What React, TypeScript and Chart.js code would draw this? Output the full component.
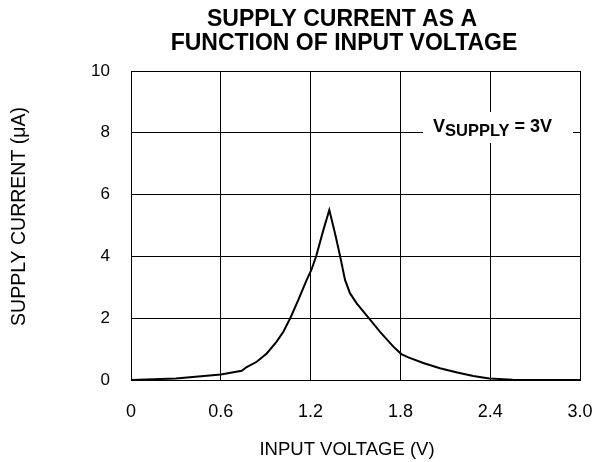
import React, { useEffect, useRef } from "react";
import { Chart, registerables } from "chart.js";

Chart.register(...registerables);

const inputVoltage = [0, 0.3, 0.6, 0.74, 0.773, 0.84, 0.907, 0.973, 1.018, 1.067, 1.118, 1.174, 1.205, 1.238, 1.285, 1.325, 1.363, 1.397, 1.43, 1.463, 1.508, 1.585, 1.664, 1.753, 1.806, 1.853, 1.953, 2.064, 2.18, 2.287, 2.394, 2.55, 2.75, 3.0];
const supplyCurrent = [0, 0.05, 0.18, 0.3, 0.42, 0.59, 0.86, 1.24, 1.56, 2.03, 2.59, 3.24, 3.56, 4.02, 4.85, 5.5, 4.75, 4.01, 3.24, 2.81, 2.48, 2.03, 1.56, 1.08, 0.84, 0.73, 0.55, 0.38, 0.24, 0.13, 0.05, 0.01, 0, 0];

const xTickValues = [0, 0.6, 1.2, 1.8, 2.4, 3.0];
const xTickLabels = ["0", "0.6", "1.2", "1.8", "2.4", "3.0"];
const yTickValues = [0, 2, 4, 6, 8, 10];
const yTickLabels = ["0", "2", "4", "6", "8", "10"];

const titleLines = ["SUPPLY CURRENT AS A", "FUNCTION OF INPUT VOLTAGE"];
const xAxisTitle = "INPUT VOLTAGE (V)";
const yAxisTitle = "SUPPLY CURRENT (\u03BCA)";
const noteMain = "V";
const noteSub = "SUPPLY";
const noteTail = " = 3V";

const FONT = "'Liberation Sans', Arial, Helvetica, sans-serif";

const textPlugin = {
  id: "textPlugin",
  afterDraw(chart: any) {
    const ctx = chart.ctx as CanvasRenderingContext2D;
    ctx.save();
    ctx.fillStyle = "#000";
    // title
    ctx.font = `bold 23px ${FONT}`;
    ctx.textAlign = "center";
    ctx.textBaseline = "alphabetic";
    ctx.fillText(titleLines[0], 342, 26);
    ctx.fillText(titleLines[1], 344, 50);
    // x axis title
    ctx.font = `18.5px ${FONT}`;
    ctx.fillText(xAxisTitle, 347, 454.5);
    // y axis title
    ctx.save();
    ctx.font = `19.5px ${FONT}`;
    ctx.translate(25, 216.5);
    ctx.rotate(-Math.PI / 2);
    ctx.textAlign = "center";
    ctx.textBaseline = "alphabetic";
    ctx.fillText(yAxisTitle, 0, 0);
    ctx.restore();
    // note box
    ctx.fillStyle = "#fff";
    ctx.fillRect(423, 112, 150, 31);
    ctx.fillStyle = "#000";
    ctx.textAlign = "left";
    let x = 433;
    ctx.font = `bold 18px ${FONT}`;
    ctx.fillText(noteMain, x, 132);
    x += ctx.measureText(noteMain).width;
    ctx.font = `bold 16.5px ${FONT}`;
    ctx.fillText(noteSub, x, 136);
    x += ctx.measureText(noteSub).width;
    ctx.font = `bold 18px ${FONT}`;
    ctx.fillText(noteTail, x, 132);
    ctx.restore();
  },
};

export default function App() {
  const ref = useRef<HTMLCanvasElement | null>(null);
  useEffect(() => {
    document.body.style.margin = "0";
    const canvas = ref.current;
    if (!canvas) return;
    const data = inputVoltage.map((v, i) => ({ x: v, y: supplyCurrent[i] }));
    const chart = new Chart(canvas, {
      type: "line",
      data: {
        datasets: [
          {
            data,
            borderColor: "#000",
            borderWidth: 2,
            pointRadius: 0,
            tension: 0,
            fill: false,
          },
        ],
      },
      options: {
        animation: false,
        responsive: false,
        devicePixelRatio: 1,
        layout: { padding: { top: 71, right: 15, left: 0, bottom: 0 } },
        plugins: {
          legend: { display: false },
          title: { display: false },
          tooltip: { enabled: false },
        },
        scales: {
          x: {
            type: "linear",
            min: 0,
            max: 3,
            afterBuildTicks: (s: any) => {
              s.ticks = xTickValues.map((v) => ({ value: v }));
            },
            afterFit: (s: any) => {
              s.height = 82;
              s.paddingLeft = 0;
              s.paddingRight = 0;
            },
            ticks: {
              padding: 21,
              color: "#000",
              font: { family: FONT, size: 18 },
              maxRotation: 0,
              callback: (_v: any, i: number) => xTickLabels[i],
            },
            grid: { color: "#000", lineWidth: 1, drawTicks: false },
            border: { display: true, color: "#000", width: 1 },
          },
          y: {
            type: "linear",
            min: 0,
            max: 10,
            afterBuildTicks: (s: any) => {
              s.ticks = yTickValues.map((v) => ({ value: v }));
            },
            afterFit: (s: any) => {
              s.width = 131;
              s.paddingTop = 0;
              s.paddingBottom = 0;
            },
            ticks: {
              padding: 21,
              color: "#000",
              font: { family: FONT, size: 17 },
              callback: (_v: any, i: number) => yTickLabels[i],
            },
            grid: { color: "#000", lineWidth: 1, drawTicks: false },
            border: { display: true, color: "#000", width: 1 },
          },
        },
      },
      plugins: [textPlugin],
    } as any);
    return () => chart.destroy();
  }, []);
  return <canvas ref={ref} width={595} height={462} style={{ display: "block" }} />;
}
